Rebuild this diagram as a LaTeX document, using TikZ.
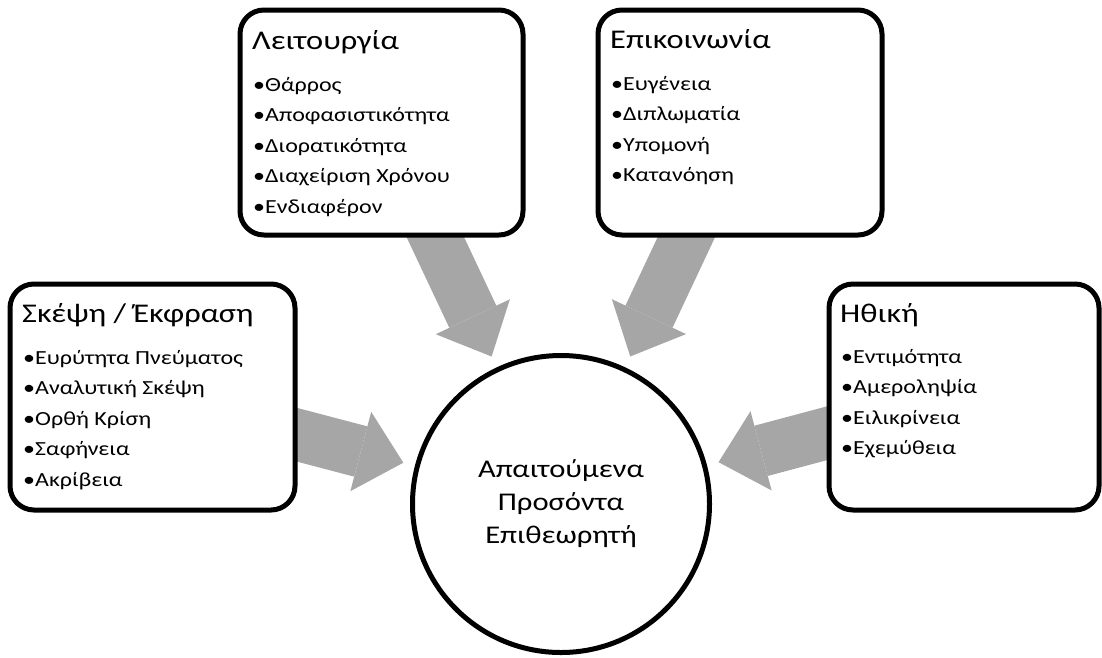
\documentclass[tikz,border=0pt]{standalone}
\usepackage{fontspec}
\setmainfont{Carlito}[FakeStretch=1.2]
\usepackage{xcolor}
\usetikzlibrary{positioning, arrows.meta, backgrounds}

\definecolor{arrowgray}{RGB}{166,166,166}

\begin{document}
\begin{tikzpicture}[x=1pt, y=-1pt,
		groupbox/.style={draw, line width=5pt, rounded corners=24pt, fill=white, inner sep=0pt},
		boxtitle/.style={anchor=base west, inner sep=0pt, font=\fontsize{27}{32}\selectfont},
		boxitem/.style={anchor=base west, inner sep=0pt, font=\fontsize{20}{24}\selectfont},
		fatarrow/.style={color=arrowgray, line width=52pt, -{Triangle[length=44pt, width=82pt, line width=0pt]}, shorten >=12pt, shorten <=-30pt}]
		\useasboundingbox (0,0) rectangle (1102,657);

		% Draw the central circle
		\node[draw, circle, line width=5pt, minimum size=297pt, inner sep=0pt, align=center,
			font=\fontsize{25.5}{33}\selectfont] (core) at (561,504) {Απαιτούμενα\\Προσόντα\\Επιθεωρητή};

		% Draw the four boxes
		\node[groupbox, minimum width=285pt, minimum height=226pt] (think) at (152.5,397) {};
		\node[groupbox, minimum width=283pt, minimum height=225pt] (oper) at (381.5,122.5) {};
		\node[groupbox, minimum width=284pt, minimum height=225pt] (comm) at (740,122.5) {};
		\node[groupbox, minimum width=270pt, minimum height=226pt] (ethic) at (964,397) {};

		% Titles
		\node[boxtitle] (think-title) at (22,322) {Σκέψη / Έκφραση};
		\node[boxtitle] (oper-title) at (252,49) {Λειτουργία};
		\node[boxtitle] (comm-title) at (610,48) {Επικοινωνία};
		\node[boxtitle] (ethic-title) at (840,322) {Ηθική};

		% Bullet lists
		\foreach \txt [count=\i] in {Ευρύτητα Πνεύματος, Αναλυτική Σκέψη, Ορθή Κρίση, Σαφήνεια, Ακρίβεια}
			\node[boxitem] (think-\i) at (23,{364+30.5*(\i-1)}) {•\txt};
		\foreach \txt [count=\i] in {Θάρρος, Αποφασιστικότητα, Διορατικότητα, Διαχείριση Χρόνου, Ενδιαφέρον}
			\node[boxitem] (oper-\i) at (253,{91+30.5*(\i-1)}) {•\txt};
		\foreach \txt [count=\i] in {Ευγένεια, Διπλωματία, Υπομονή, Κατανόηση}
			\node[boxitem] (comm-\i) at (611,{90+30.5*(\i-1)}) {•\txt};
		\foreach \txt [count=\i] in {Εντιμότητα, Αμεροληψία, Ειλικρίνεια, Εχεμύθεια}
			\node[boxitem] (ethic-\i) at (841,{363+30.5*(\i-1)}) {•\txt};

		% Arrows into the circle
		\begin{scope}[on background layer]
			\draw[fatarrow] (think) -- (core);
			\draw[fatarrow] (oper) -- (core);
			\draw[fatarrow] (comm) -- (core);
			\draw[fatarrow] (ethic) -- (core);
		\end{scope}
	\end{tikzpicture}
\end{document}
